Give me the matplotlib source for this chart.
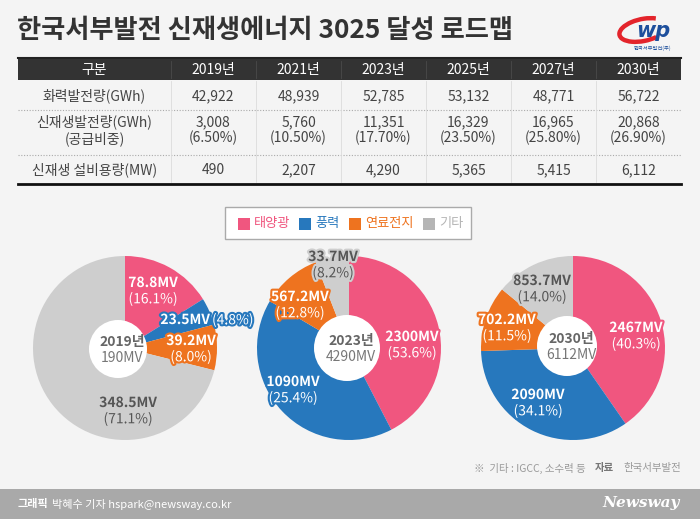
import matplotlib.pyplot as plt
import matplotlib.patches as mpatches
import matplotlib.patheffects as pe

plt.rcParams['font.family'] = ['Noto Sans CJK KR', 'DejaVu Sans']

# table data
columns = ['2019년', '2021년', '2023년', '2025년', '2027년', '2030년']
thermal_gwh = ['42,922', '48,939', '52,785', '53,132', '48,771', '56,722']
renew_gwh = ['3,008', '5,760', '11,351', '16,329', '16,965', '20,868']
renew_share = ['(6.50%)', '(10.50%)', '(17.70%)', '(23.50%)', '(25.80%)', '(26.90%)']
capacity_mw = ['490', '2,207', '4,290', '5,365', '5,415', '6,112']
row_labels = ['화력발전량(GWh)', '신재생발전량(GWh)\n(공급비중)', '신재생 설비용량(MW)']

# pie data (태양광, 풍력, 연료전지, 기타)
sources = ['태양광', '풍력', '연료전지', '기타']
pie_years = ['2019년', '2023년', '2030년']
pie_totals = ['190MV', '4290MV', '6112MV']
mv_2019 = [78.8, 23.5, 39.2, 348.5]
pct_2019 = [16.1, 4.8, 8.0, 71.1]
mv_2023 = [2300, 1090, 567.2, 33.7]
pct_2023 = [53.6, 25.4, 12.8, 8.2]
drawn_2023 = [42.4, 41.1, 10.6, 5.9]   # the 2023 donut is not drawn to its labels
mv_2030 = [2467, 2090, 702.2, 853.7]
pct_2030 = [40.3, 34.1, 11.5, 14.0]

colors = ['#f0567f', '#2778bd', '#ee731f', '#cecece']
legend_colors = ['#f0567f', '#2778bd', '#ee731f', '#b5b5b5']
label_colors = ['white', 'white', 'white', '#555555']

W, H = 700, 519
fig = plt.figure(figsize=(7, 5.19), dpi=100, facecolor='#f4f4f4')
ax = fig.add_axes([0, 0, 1, 1])
ax.set_facecolor('#f4f4f4')

# title + logo
ax.text(17, 30, '한국서부발전 신재생에너지 3025 달성 로드맵', fontsize=18.9, fontweight='black',
        color='#333333', va='center', ha='left')
ax.add_patch(mpatches.Arc((643, 30), 48, 22, angle=-12, theta1=40, theta2=330,
                          color='#e3242b', lw=3.2))
ax.text(653, 31, 'wp', fontsize=15, fontweight='bold', fontstyle='italic', color='#1d4f9c',
        ha='center', va='center', family='DejaVu Sans')
ax.text(653, 48, '한국서부발전(주)', fontsize=3.8, color='#1d4f9c', ha='center', va='center')
ax.plot([18, 681], [58, 58], color='#222222', lw=1.5)

# table
x0, x1 = 18, 681
sep = 171
col_w = (x1 - sep) / len(columns)
col_x = [sep + col_w * (i + 0.5) for i in range(len(columns))]
ax.add_patch(mpatches.Rectangle((x0, 59), x1 - x0, 21, color='#333333', lw=0))
ax.text((x0 + sep) / 2, 70, '구분', color='white', fontsize=10, ha='center', va='center')
for i, c in enumerate(columns):
    ax.text(col_x[i], 70, c, color='white', fontsize=10, ha='center', va='center')
    xs = sep + col_w * i
    ax.plot([xs, xs], [61, 78], color='#4a4a4a', lw=0.6)

row_y = [96, 130, 170]
tc = '#444444'
ax.text((x0 + sep) / 2, row_y[0], row_labels[0], fontsize=10, color=tc, ha='center', va='center')
ax.text((x0 + sep) / 2, row_y[1], row_labels[1], fontsize=10, color=tc, ha='center', va='center',
        linespacing=1.15)
ax.text((x0 + sep) / 2, row_y[2], row_labels[2], fontsize=10, color=tc, ha='center', va='center')
for i in range(len(columns)):
    ax.text(col_x[i], row_y[0], thermal_gwh[i], fontsize=10, color=tc, ha='center', va='center')
    ax.text(col_x[i], row_y[1], renew_gwh[i] + '\n' + renew_share[i], fontsize=10, color=tc,
            ha='center', va='center', linespacing=1.15)
    ax.text(col_x[i], row_y[2], capacity_mw[i], fontsize=10, color=tc, ha='center', va='center')
for yl in [110, 155]:
    ax.plot([x0, x1], [yl, yl], color='#aaaaaa', lw=0.8, ls=(0, (1, 1.5)))
for xs in [sep + col_w * i for i in range(len(columns))]:
    ax.plot([xs, xs], [81, 182], color='#dcdcdc', lw=0.6)
ax.plot([x0, x1], [183.5, 183.5], color='#111111', lw=2)

# legend
ax.add_patch(mpatches.Rectangle((225, 207), 246, 32, facecolor='white', edgecolor='#aaaaaa', lw=1))
leg_x = [238, 299, 349, 423]
for lx, name, col in zip(leg_x, sources, legend_colors):
    ax.add_patch(mpatches.Rectangle((lx, 218), 12, 12, color=col, lw=0))
    ax.text(lx + 16, 224, name, fontsize=9.5, color=col, ha='left', va='center')

# donuts
R = 92
pies = [
    dict(center=(125, 348), sizes=pct_2019, mv=mv_2019, pct=pct_2019,
         hole=(118, 349, 29),
         pos=[(153, 291), None, (191, 349), (128, 411)]),
    dict(center=(349, 348), sizes=drawn_2023, mv=mv_2023, pct=pct_2023,
         hole=(347, 348, 33),
         pos=[(412, 345), (293, 390), (300, 305), (333, 265)]),
    dict(center=(573, 348), sizes=pct_2030, mv=mv_2030, pct=pct_2030,
         hole=(567, 346, 30),
         pos=[(636, 336), (538, 403), (507, 328), (542, 289)]),
]
for k, p in enumerate(pies):
    # y axis is inverted, so counterclock in data space reads clockwise on screen
    ax.pie(p['sizes'], colors=colors, startangle=-90, counterclock=True,
           center=p['center'], radius=R, wedgeprops=dict(linewidth=0))
    hx, hy, hr = p['hole']
    ax.add_patch(mpatches.Circle((hx, hy), hr, color='white', lw=0, zorder=3))
    ax.text(hx + 4, hy - 7, pie_years[k], fontsize=10, fontweight='bold', color='#666666',
            ha='center', va='center', zorder=4)
    ax.text(hx + 4, hy + 9, pie_totals[k], fontsize=10, color='#777777',
            ha='center', va='center', zorder=4)
    for j in range(4):
        stroke = [pe.withStroke(linewidth=3, foreground=colors[j])]
        mv_txt = f"{p['mv'][j]:g}MV"
        pct_txt = f"({p['pct'][j]:.1f}%)"
        if p['pos'][j] is None:
            ax.text(210, 320, mv_txt, fontsize=10, fontweight='bold', color='white',
                    ha='right', va='center', zorder=5, path_effects=stroke)
            ax.text(212, 320, pct_txt, fontsize=10, color='white',
                    ha='left', va='center', zorder=5, path_effects=stroke)
            continue
        lx, ly = p['pos'][j]
        ax.text(lx, ly - 8, mv_txt, fontsize=10, fontweight='bold', color=label_colors[j],
                ha='center', va='center', zorder=5, path_effects=stroke)
        ax.text(lx, ly + 8, pct_txt, fontsize=10, color=label_colors[j],
                ha='center', va='center', zorder=5, path_effects=stroke)

# source note
ax.text(681, 468, '한국서부발전', fontsize=7.5, color='#999999', ha='right', va='center')
ax.text(614, 468, '자료', fontsize=7.5, fontweight='bold', color='#777777', ha='right', va='center')
ax.text(586, 468, '※  기타 : IGCC, 소수력 등', fontsize=7.5, color='#999999', ha='right', va='center')

# footer band
ax.add_patch(mpatches.Rectangle((0, 489), W, 30, color='#a9a9a9', lw=0))
ax.text(18, 504, '그래픽', fontsize=8, fontweight='bold', color='white', ha='left', va='center')
ax.text(52, 504, '박혜수 기자 hspark@newsway.co.kr', fontsize=8, color='white', ha='left', va='center')
ax.text(680, 503, 'Newsway', fontsize=11, fontweight='bold', fontstyle='italic', color='white',
        ha='right', va='center', family='DejaVu Serif')

ax.set_xlim(0, W)
ax.set_ylim(H, 0)
ax.set_aspect('auto')
ax.axis('off')

fig.savefig('out.png', dpi=100, facecolor=fig.get_facecolor())
